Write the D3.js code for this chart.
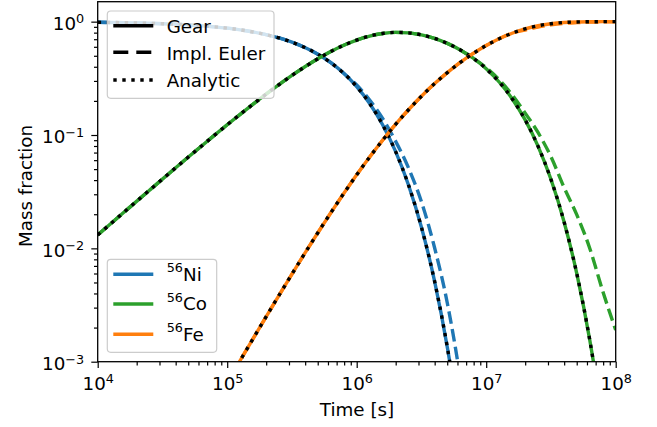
<!DOCTYPE html>
<html><head><meta charset="utf-8">
<script src="https://cdn.jsdelivr.net/npm/d3@7"></script>
<style>
body{margin:0;background:#fff}
svg{display:block}
text{font-family:"DejaVu Sans",sans-serif;fill:#000}
</style>
</head><body>
<svg id="chart" width="657" height="427"></svg>
<script>
// ---------- data ----------
const times = [
  1.000e4, 1.259e4, 1.585e4, 1.995e4, 2.512e4, 3.162e4, 3.981e4, 5.012e4, 6.310e4, 7.943e4,
  1.000e5, 1.259e5, 1.585e5, 1.995e5, 2.512e5, 3.162e5, 3.981e5, 5.012e5, 6.310e5, 7.943e5,
  1.000e6, 1.259e6, 1.585e6, 1.995e6, 2.512e6, 3.162e6, 3.981e6, 5.012e6, 6.310e6, 7.943e6,
  1.000e7, 1.259e7, 1.585e7, 1.995e7, 2.512e7, 3.162e7, 3.981e7, 5.012e7, 6.310e7, 7.943e7,
  1.000e8
];

const niAnalytic = [
  0.98688, 0.98351, 0.97929, 0.97399, 0.96737, 0.95910, 0.94879, 0.93596, 0.92005, 0.90042,
  0.87629, 0.84683, 0.81115, 0.76836, 0.71769, 0.65862, 0.59112, 0.51589, 0.43464, 0.35030,
  0.26698, 0.18967, 0.12332, 0.071723, 0.036255, 0.015359, 0.0052090, 0.0013353, 2.4061e-4, 2.7820e-5,
  1.8399e-6, null, null, null, null, null, null, null, null, null,
  null
];
const coAnalytic = [
  0.013112, 0.016477, 0.020695, 0.025979, 0.032585, 0.040832, 0.051108, 0.063875, 0.079681, 0.099167,
  0.12306, 0.15214, 0.18725, 0.22915, 0.27846, 0.33545, 0.39982, 0.47038, 0.54477, 0.61921,
  0.68851, 0.74647, 0.78678, 0.80436, 0.79676, 0.76482, 0.71212, 0.64345, 0.56330, 0.47559,
  0.38411, 0.29353, 0.20923, 0.13661, 0.079880, 0.040648, 0.017365, 0.0059520, 0.0015461, 2.8333e-4,
  3.3456e-5
];
const feAnalytic = [
  6.826e-6, 1.0805e-5, 1.7098e-5, 2.7046e-5, 4.2759e-5, 6.7556e-5, 1.0665e-4, 1.6818e-4, 2.6487e-4, 4.1643e-4,
  6.544e-4, 1.0247e-3, 1.5997e-3, 2.4881e-3, 3.8517e-3, 5.9285e-3, 9.062e-3, 0.013730, 0.020589, 0.030494,
  0.044513, 0.063862, 0.089906, 0.12392, 0.16698, 0.21982, 0.28268, 0.35521, 0.43646, 0.52438,
  0.61589, 0.70647, 0.79077, 0.86339, 0.92012, 0.95935, 0.98264, 0.99405, 0.99845, 0.99972,
  0.99997
];

// Gear solver: indistinguishable from the analytic curves in the picture
const niGear = niAnalytic.slice();
const coGear = coAnalytic.slice();
const feGear = feAnalytic.slice();

// Implicit Euler: follows analytic early, decays too slowly at late times
const niEuler = [
  0.98688, 0.98351, 0.97929, 0.97399, 0.96737, 0.95910, 0.94879, 0.93596, 0.92005, 0.90042,
  0.87629, 0.84683, 0.81115, 0.76836, 0.71769, 0.65862, 0.59112, 0.51589, 0.43464, 0.35030,
  0.2764, 0.2032, 0.1400, 0.0883, 0.0512, 0.02578, 0.01028, 0.003279, 7.10e-4, 1.01e-4,
  8.2e-6, null, null, null, null, null, null, null, null, null,
  null
];
const coEuler = [
  0.013112, 0.016477, 0.020695, 0.025979, 0.032585, 0.040832, 0.051108, 0.063875, 0.079681, 0.099167,
  0.12306, 0.15214, 0.18725, 0.22915, 0.27846, 0.33545, 0.39982, 0.47038, 0.54477, 0.61921,
  0.68851, 0.74647, 0.78678, 0.80436, 0.79676, 0.76482, 0.71212, 0.64345, 0.56330, 0.47559,
  0.3930, 0.3074, 0.2267, 0.1568, 0.1053, 0.0644, 0.0347, 0.01972, 0.00998, 0.004188,
  0.001903
];
const feEuler = [
  6.826e-6, 1.0805e-5, 1.7098e-5, 2.7046e-5, 4.2759e-5, 6.7556e-5, 1.0665e-4, 1.6818e-4, 2.6487e-4, 4.1643e-4,
  6.544e-4, 1.0247e-3, 1.5997e-3, 2.4881e-3, 3.8517e-3, 5.9285e-3, 9.062e-3, 0.013730, 0.020589, 0.030494,
  0.044513, 0.063862, 0.089906, 0.12392, 0.16698, 0.21982, 0.28268, 0.35521, 0.43646, 0.52438,
  0.61589, 0.70647, 0.79077, 0.8432, 0.8947, 0.9356, 0.9653, 0.9803, 0.9900, 0.9958,
  0.9981
];

const speciesNames = ["Ni", "Co", "Fe"];
const speciesMass = ["56", "56", "56"];
const methodNames = ["Gear", "Impl. Euler", "Analytic"];
const xTickValues = [1e4, 1e5, 1e6, 1e7, 1e8];
const xTickExps = ["4", "5", "6", "7", "8"];
const yTickValues = [1e-3, 1e-2, 1e-1, 1e0];
const yTickExps = ["\u22123", "\u22122", "\u22121", "0"];
const xLabel = "Time [s]";
const yLabel = "Mass fraction";

// ---------- layout / style ----------
const colors = {Ni: "#1f77b4", Co: "#2ca02c", Fe: "#ff7f0e"};
const L = 97.7, R = 615.7, T = 1.7, B = 361.7;
const FS = 18.3;
const LW = 3.4;
const DASH = "12.6,5.4";
const DOT = "3.4,5.6";

const svg = d3.select("#chart");
const x = d3.scaleLog().domain([1e4, 1e8]).range([L, R]);
const y = d3.scaleLog().domain([1e-3, 1.5]).range([B, T]);

svg.append("defs").append("clipPath").attr("id", "clip")
  .append("rect").attr("x", L).attr("y", T).attr("width", R - L).attr("height", B - T);

const series = [
  {name: "Ni", gear: niGear, euler: niEuler, analytic: niAnalytic},
  {name: "Co", gear: coGear, euler: coEuler, analytic: coAnalytic},
  {name: "Fe", gear: feGear, euler: feEuler, analytic: feAnalytic}
];

const line = d3.line()
  .defined(d => d.v != null && d.v > 0)
  .x(d => x(d.t)).y(d => y(d.v))
  .curve(d3.curveMonotoneX);

const plot = svg.append("g").attr("clip-path", "url(#clip)");
series.forEach(s => {
  const mk = arr => times.map((t, i) => ({t, v: arr[i]}));
  plot.append("path").datum(mk(s.gear)).attr("d", line)
    .attr("fill", "none").attr("stroke", colors[s.name]).attr("stroke-width", LW);
  plot.append("path").datum(mk(s.euler)).attr("d", line)
    .attr("fill", "none").attr("stroke", colors[s.name]).attr("stroke-width", LW)
    .attr("stroke-dasharray", DASH);
  plot.append("path").datum(mk(s.analytic)).attr("d", line)
    .attr("fill", "none").attr("stroke", "#000").attr("stroke-width", LW)
    .attr("stroke-dasharray", DOT);
});

// ---------- axes ----------
const minor = (lo, hi) => {
  const out = [];
  for (let e = lo; e < hi; e++) for (let m = 2; m <= 9; m++) out.push(m * Math.pow(10, e));
  return out;
};
const xMinor = minor(4, 8);
const yMinor = minor(-3, 0).filter(v => v <= 1.5);

const axStyle = g => {
  g.select(".domain").remove();
  g.selectAll(".tick line").attr("stroke", "#000").attr("stroke-width", 1.2);
};

svg.append("g").attr("transform", `translate(0,${B})`)
  .call(d3.axisBottom(x).tickValues(xMinor).tickSize(3.7).tickFormat(""))
  .call(axStyle);
svg.append("g").attr("transform", `translate(${L},0)`)
  .call(d3.axisLeft(y).tickValues(yMinor).tickSize(3.7).tickFormat(""))
  .call(axStyle);

const xAx = svg.append("g").attr("transform", `translate(0,${B})`)
  .call(d3.axisBottom(x).tickValues(xTickValues).tickSize(6.4).tickPadding(6.4).tickFormat(""))
  .call(axStyle);
xAx.selectAll(".tick").each(function (d, i) {
  const t = d3.select(this).select("text");
  t.attr("y", 28.3).attr("dy", null).attr("font-size", FS).attr("font-family", '"DejaVu Sans",sans-serif')
    .attr("text-anchor", "middle");
  t.text(null);
  t.append("tspan").text("10");
  t.append("tspan").attr("font-size", FS * 0.7).attr("dy", -6.5).text(xTickExps[i]);
});

const yAx = svg.append("g").attr("transform", `translate(${L},0)`)
  .call(d3.axisLeft(y).tickValues(yTickValues).tickSize(6.4).tickPadding(6.4).tickFormat(""))
  .call(axStyle);
yAx.selectAll(".tick").each(function (d, i) {
  const t = d3.select(this).select("text");
  t.attr("x", -13.5).attr("y", 7.8).attr("dy", null).attr("font-size", FS)
    .attr("font-family", '"DejaVu Sans",sans-serif').attr("text-anchor", "end");
  t.text(null);
  t.append("tspan").text("10");
  t.append("tspan").attr("font-size", FS * 0.7).attr("dy", -6.5).text(yTickExps[i]);
});

// frame
svg.append("rect").attr("x", L).attr("y", T).attr("width", R - L).attr("height", B - T)
  .attr("fill", "none").attr("stroke", "#000").attr("stroke-width", 1.3);

// axis labels
svg.append("text").attr("x", 357).attr("y", 416).attr("text-anchor", "middle")
  .attr("font-size", FS).text(xLabel);
svg.append("text").attr("transform", "translate(31.5,186) rotate(-90)")
  .attr("text-anchor", "middle").attr("font-size", FS).text(yLabel);

// ---------- legends ----------
function legendBox(x0, y0, x1, y1) {
  svg.append("rect").attr("x", x0).attr("y", y0).attr("width", x1 - x0).attr("height", y1 - y0)
    .attr("rx", 3.5).attr("fill", "#fff").attr("fill-opacity", 0.8)
    .attr("stroke", "#cccccc").attr("stroke-width", 1.2);
}
legendBox(107.3, 11, 274, 98.3);
const methodDash = [null, "15,8", "3.4,5.6"];
const rows1 = [25.7, 52.3, 80];
methodNames.forEach((m, i) => {
  svg.append("line").attr("x1", 113.3).attr("x2", 153.3).attr("y1", rows1[i]).attr("y2", rows1[i])
    .attr("stroke", "#000").attr("stroke-width", LW)
    .attr("stroke-dasharray", methodDash[i]);
  svg.append("text").attr("x", 166.7).attr("y", rows1[i] + 7.2).attr("font-size", FS).text(m);
});

legendBox(107.3, 259.3, 216.7, 352.3);
const rows2 = [274.3, 304, 334.3];
speciesNames.forEach((s, i) => {
  svg.append("line").attr("x1", 113.3).attr("x2", 153.3).attr("y1", rows2[i]).attr("y2", rows2[i])
    .attr("stroke", colors[s]).attr("stroke-width", LW);
  const t = svg.append("text").attr("x", 166.7).attr("y", rows2[i] + 6.2).attr("font-size", FS);
  t.append("tspan").attr("font-size", FS * 0.7).attr("dy", -8.3).text(speciesMass[i]);
  t.append("tspan").attr("dy", 8.3).text(s);
});
</script>
</body></html>
